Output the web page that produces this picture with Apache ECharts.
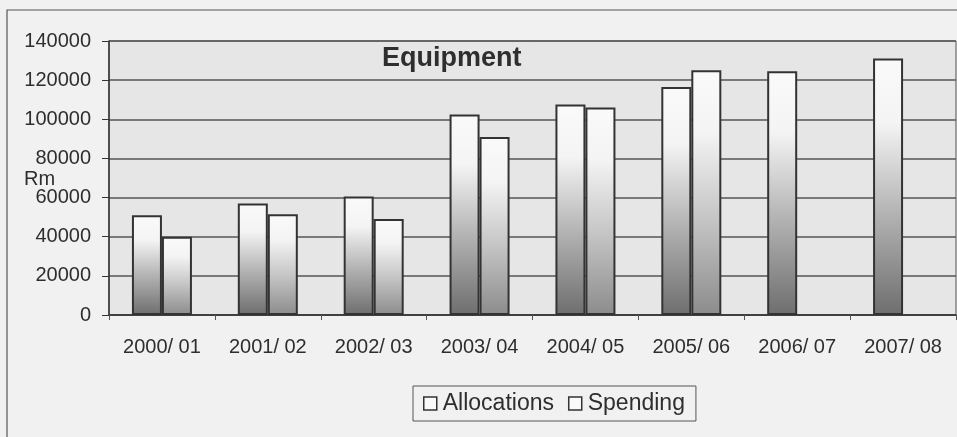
<!DOCTYPE html>
<html>
<head>
<meta charset="utf-8">
<script src="https://cdn.jsdelivr.net/npm/echarts@6/dist/echarts.min.js"></script>
<style>
html,body{margin:0;padding:0;background:#f0f0f0;}
#chart{width:957px;height:437px;}
</style>
</head>
<body>
<div id="chart"></div>
<script>
const categories = ['2000/ 01','2001/ 02','2002/ 03','2003/ 04','2004/ 05','2005/ 06','2006/ 07','2007/ 08'];
const allocations = [51000, 57000, 60500, 102500, 107500, 116500, 124500, 131000];
const spending = [40000, 51500, 49000, 91000, 106000, 125000, null, null];
const yTicks = { min: 0, max: 140000, interval: 20000 };
const titleText = 'Equipment';
const unitText = 'Rm';

const FONT = '"Liberation Sans", Arial, sans-serif';
const TXT = '#2e2e2e';
const chart = echarts.init(document.getElementById('chart'));

function grad(bottom, mid) {
  return new echarts.graphic.LinearGradient(0, 1, 0, 0, [
    { offset: 0, color: bottom },
    { offset: 0.4, color: mid },
    { offset: 0.75, color: '#f4f4f4' },
    { offset: 1, color: '#fafafa' }
  ]);
}

chart.setOption({
  backgroundColor: '#f1f1f1',
  animation: false,
  textStyle: { fontFamily: FONT },
  graphic: [
    { type: 'rect', shape: { x: 7, y: 10, width: 970, height: 460 }, style: { fill: 'none', stroke: '#555', lineWidth: 1.2 }, z: -1 },
    { type: 'text', left: 24, top: 169, style: { text: unitText, font: '20px ' + FONT, fill: TXT } },
    { type: 'text', left: 382, top: 45, z: 10, style: { text: titleText, font: 'bold 27px ' + FONT, fill: TXT } }
  ],
  grid: { left: 109, right: 1, top: 41, bottom: 122, show: true, backgroundColor: '#e6e6e6', borderColor: '#555', borderWidth: 1 },
  legend: {
    left: 413, top: 386,
    padding: [6, 11, 6, 10],
    borderColor: '#555', borderWidth: 1,
    itemWidth: 13, itemHeight: 13, itemGap: 14,
    icon: 'rect',
    textStyle: { fontSize: 23, color: TXT, fontFamily: FONT, padding: [0, 0, 0, 1] },
    data: [
      { name: 'Allocations', itemStyle: { color: '#fafafa', borderColor: '#333', borderWidth: 1.5 } },
      { name: 'Spending', itemStyle: { color: '#fafafa', borderColor: '#333', borderWidth: 1.5 } }
    ]
  },
  xAxis: {
    type: 'category',
    data: categories,
    axisLine: { lineStyle: { color: '#333', width: 1.5 } },
    axisTick: { show: true, length: 5, lineStyle: { color: '#555' } },
    axisLabel: { fontSize: 20, color: TXT, margin: 22, fontFamily: FONT }
  },
  yAxis: {
    type: 'value',
    min: yTicks.min, max: yTicks.max, interval: yTicks.interval,
    axisLine: { show: true, lineStyle: { color: '#333', width: 1.5 } },
    axisTick: { show: true, length: 7, lineStyle: { color: '#333' } },
    axisLabel: { fontSize: 20, color: TXT, margin: 18, fontFamily: FONT, formatter: v => String(v) },
    splitLine: { lineStyle: { color: '#555', width: 1.5 } }
  },
  series: [
    {
      name: 'Allocations', type: 'bar', data: allocations,
      barWidth: 30, barGap: '0%',
      itemStyle: { color: grad('#6e6e6e', '#b4b4b4'), borderColor: '#333', borderWidth: 2 }
    },
    {
      name: 'Spending', type: 'bar', data: spending,
      barWidth: 30, barGap: '0%',
      itemStyle: { color: grad('#8c8c8c', '#c6c6c6'), borderColor: '#333', borderWidth: 2 }
    }
  ]
});
</script>
</body>
</html>
